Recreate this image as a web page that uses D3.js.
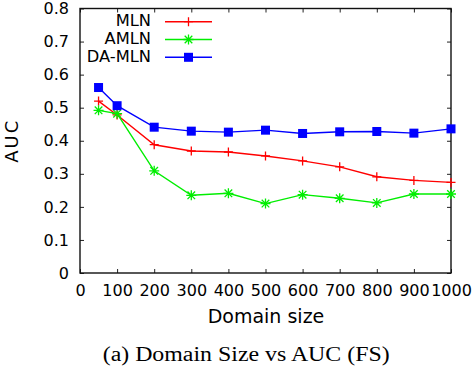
<!DOCTYPE html>
<html>
<head>
<meta charset="utf-8">
<script src="https://cdn.jsdelivr.net/npm/d3@7"></script>
<style>
  body { margin: 0; background: #fff; }
  svg { display: block; }
  text { font-family: "DejaVu Sans", sans-serif; fill: #000; }
</style>
</head>
<body>
<svg class="chart" width="474" height="372"></svg>
<script>
// data
const sizes = [50, 100, 200, 300, 400, 500, 600, 700, 800, 900, 1000];
const mln = [0.52, 0.478, 0.388, 0.369, 0.366, 0.354, 0.339, 0.321, 0.291, 0.280, 0.274];
const amln = [0.492, 0.482, 0.309, 0.235, 0.241, 0.210, 0.237, 0.226, 0.212, 0.239, 0.239];
const damln = [0.561, 0.506, 0.441, 0.429, 0.426, 0.432, 0.422, 0.427, 0.428, 0.423, 0.436];
const xTicks = [0, 100, 200, 300, 400, 500, 600, 700, 800, 900, 1000];
const yTicks = [0, 0.1, 0.2, 0.3, 0.4, 0.5, 0.6, 0.7, 0.8];

const series = [
  { name: "MLN", values: mln, color: "#ff0000", marker: "plus" },
  { name: "AMLN", values: amln, color: "#00ee00", marker: "star" },
  { name: "DA-MLN", values: damln, color: "#0000ff", marker: "square" }
];

const mLeft = 80, mRight = 451, mTop = 8.5, mBottom = 273;
const width = mRight - mLeft;
const height = mBottom - mTop;

const svg = d3.select(".chart");
const chart = svg.append("g").attr("transform", `translate(${mLeft}, ${mTop})`);

const xScale = d3.scaleLinear().domain([0, 1000]).range([0, width]);
const yScale = d3.scaleLinear().domain([0, 0.8]).range([height, 0]);

// axes with inward ticks, mirrored on top/right like gnuplot
const tick = 4;
chart.append("g")
  .attr("transform", `translate(0, ${height})`)
  .call(d3.axisBottom(xScale).tickValues(xTicks).tickSize(-tick).tickPadding(12).tickFormat(d3.format("d")))
  .call(g => g.select(".domain").remove())
  .selectAll("text").style("font-size", "16px");

chart.append("g")
  .call(d3.axisLeft(yScale).tickValues(yTicks).tickSize(-tick).tickPadding(11).tickFormat(d => d === 0 ? "0" : d3.format(".1f")(d)))
  .call(g => g.select(".domain").remove())
  .selectAll("text").style("font-size", "16px");

chart.append("g")
  .call(d3.axisTop(xScale).tickValues(xTicks).tickSize(-tick).tickFormat(""))
  .call(g => g.select(".domain").remove());

chart.append("g")
  .attr("transform", `translate(${width}, 0)`)
  .call(d3.axisRight(yScale).tickValues(yTicks).tickSize(-tick).tickFormat(""))
  .call(g => g.select(".domain").remove());

chart.selectAll(".tick line").attr("stroke", "#222").attr("stroke-width", 1);

// border
chart.append("rect")
  .attr("width", width)
  .attr("height", height)
  .attr("fill", "none")
  .attr("stroke", "#111")
  .attr("stroke-width", 1.4);

// markers
function drawMarker(g, type, x, y, color) {
  if (type === "plus") {
    g.append("path")
      .attr("d", `M${x - 4.5},${y}H${x + 4.5}M${x},${y - 4.5}V${y + 4.5}`)
      .attr("stroke", color).attr("stroke-width", 1.3).attr("fill", "none");
  } else if (type === "star") {
    g.append("path")
      .attr("d", `M${x - 5},${y}H${x + 5}M${x},${y - 5}V${y + 5}M${x - 3.8},${y - 3.8}L${x + 3.8},${y + 3.8}M${x - 3.8},${y + 3.8}L${x + 3.8},${y - 3.8}`)
      .attr("stroke", color).attr("stroke-width", 1.3).attr("fill", "none");
  } else {
    g.append("rect")
      .attr("x", x - 4.5).attr("y", y - 4.5)
      .attr("width", 9).attr("height", 9)
      .attr("fill", color);
  }
}

const line = d3.line()
  .x(d => xScale(d[0]))
  .y(d => yScale(d[1]));

series.forEach(s => {
  const pts = sizes.map((x, i) => [x, s.values[i]]);
  chart.append("path")
    .datum(pts)
    .attr("d", line)
    .attr("fill", "none")
    .attr("stroke", s.color)
    .attr("stroke-width", 1.4);
  const mg = chart.append("g");
  pts.forEach(p => drawMarker(mg, s.marker, xScale(p[0]), yScale(p[1]), s.color));
});

// legend
series.forEach((s, i) => {
  const ly = 21.7 + i * 17.8 - mTop;
  chart.append("text")
    .attr("x", 151 - mLeft)
    .attr("y", ly + 4.5)
    .attr("text-anchor", "end")
    .style("font-size", "16.3px")
    .text(s.name);
  chart.append("line")
    .attr("x1", 165 - mLeft).attr("x2", 212 - mLeft)
    .attr("y1", ly).attr("y2", ly)
    .attr("stroke", s.color).attr("stroke-width", 1.4);
  const mg = chart.append("g");
  drawMarker(mg, s.marker, 188.5 - mLeft, ly, s.color);
});

// axis labels
svg.append("text")
  .attr("transform", "rotate(-90)")
  .attr("x", -(mTop + height / 2))
  .attr("y", 17.5)
  .attr("text-anchor", "middle")
  .style("font-size", "18px")
  .style("letter-spacing", "2px")
  .text("AUC");

svg.append("text")
  .attr("x", 266)
  .attr("y", 323)
  .attr("text-anchor", "middle")
  .style("font-size", "19px")
  .text("Domain size");

svg.append("text")
  .attr("x", 102.7)
  .attr("y", 361)
  .attr("textLength", 287)
  .attr("lengthAdjust", "spacingAndGlyphs")
  .style("font-family", "'Liberation Serif', 'Times New Roman', serif")
  .style("font-size", "20px")
  .text("(a) Domain Size vs AUC (FS)");
</script>
</body>
</html>
